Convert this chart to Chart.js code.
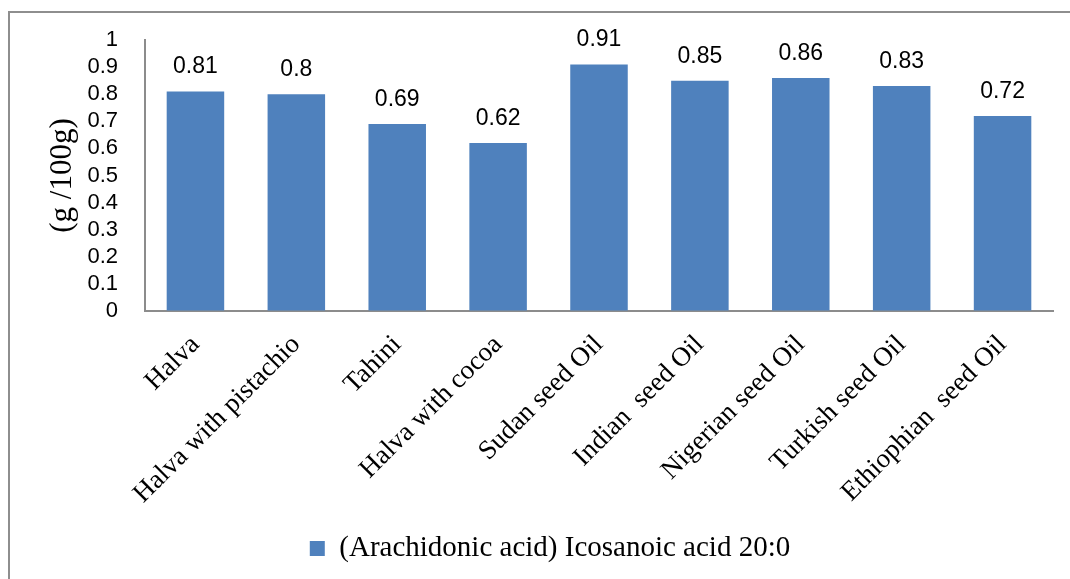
<!DOCTYPE html>
<html>
<head>
<meta charset="utf-8">
<script src="https://cdn.jsdelivr.net/npm/chart.js@4.4.1/dist/chart.umd.min.js"></script>
<style>
  html, body { margin: 0; padding: 0; background: #fff; overflow: hidden; }
  #wrap { position: relative; width: 1070px; height: 579px; }
  #frame { position: absolute; left: 8px; top: 11px; width: 2000px; height: 2000px; border: 2px solid #8e8e8e; box-sizing: border-box; pointer-events: none; }
  canvas { position: absolute; left: 0; top: 0; }
</style>
</head>
<body>
<div id="wrap">
  <div id="frame"></div>
  <canvas id="c" width="1070" height="579"></canvas>
</div>
<script>
const categories = ["Halva", "Halva with pistachio", "Tahini", "Halva with cocoa", "Sudan seed Oil", "Indian  seed Oil", "Nigerian seed Oil", "Turkish seed Oil", "Ethiophian  seed Oil"];
const values = [0.81, 0.8, 0.69, 0.62, 0.91, 0.85, 0.86, 0.83, 0.72];
const seriesName = "(Arachidonic acid) Icosanoic acid 20:0";
const yTitle = "(g /100g)";
const yTicks = [0, 0.1, 0.2, 0.3, 0.4, 0.5, 0.6, 0.7, 0.8, 0.9, 1];

const BAR_COLOR = '#4F81BD';
const AXIS_COLOR = '#8c8c8c';
const SERIF = '"Liberation Serif", "Times New Roman", serif';
const SANS = '"Liberation Sans", Arial, sans-serif';

const PAD_LEFT = 47;

const dataLabels = {
  id: 'dataLabels',
  afterDatasetsDraw(chart) {
    const ctx = chart.ctx;
    const meta = chart.getDatasetMeta(0);
    ctx.save();
    ctx.font = '23px ' + SANS;
    ctx.fillStyle = '#000';
    ctx.textAlign = 'center';
    ctx.textBaseline = 'alphabetic';
    meta.data.forEach((bar, i) => {
      ctx.fillText(String(values[i]), bar.x, bar.y - 18);
    });
    ctx.restore();
  }
};

new Chart(document.getElementById('c'), {
  type: 'bar',
  data: {
    labels: categories,
    datasets: [{
      label: seriesName,
      data: values,
      backgroundColor: BAR_COLOR,
      borderWidth: 0,
      categoryPercentage: 1.0,
      barPercentage: 0.57
    }]
  },
  options: {
    responsive: false,
    animation: false,
    devicePixelRatio: 1,
    layout: { padding: { left: PAD_LEFT, right: 17, top: 40, bottom: 6 } },
    plugins: {
      legend: {
        position: 'bottom',
        labels: {
          boxWidth: 15,
          boxHeight: 15,
          padding: 10,
          color: '#000',
          font: { family: SERIF, size: 29 }
        }
      },
      tooltip: { enabled: false }
    },
    scales: {
      x: {
        grid: { display: false, drawTicks: false },
        border: { display: true, color: AXIS_COLOR, width: 2 },
        ticks: {
          autoSkip: false,
          minRotation: 45,
          maxRotation: 45,
          padding: 18,
          color: '#000',
          font: { family: SERIF, size: 27 }
        },
        afterFit(scale) { scale.height = 213; }
      },
      y: {
        min: 0,
        max: 1,
        grid: { display: true, drawOnChartArea: false, drawTicks: false },
        border: { display: true, color: AXIS_COLOR, width: 2 },
        afterBuildTicks(scale) { scale.ticks = yTicks.map(v => ({ value: v })); },
        ticks: {
          autoSkip: false,
          padding: 27,
          color: '#000',
          font: { family: SANS, size: 22, lineHeight: 1.0 },
          callback: (v) => String(Math.round(v * 10) / 10)
        },
        title: {
          display: true,
          text: yTitle,
          color: '#000',
          padding: { top: 0, bottom: 0 },
          font: { family: SERIF, size: 31, weight: 'normal', lineHeight: 1.0 }
        },
        afterFit(scale) { scale.width = 145 - PAD_LEFT; }
      }
    }
  },
  plugins: [dataLabels]
});
</script>
</body>
</html>
